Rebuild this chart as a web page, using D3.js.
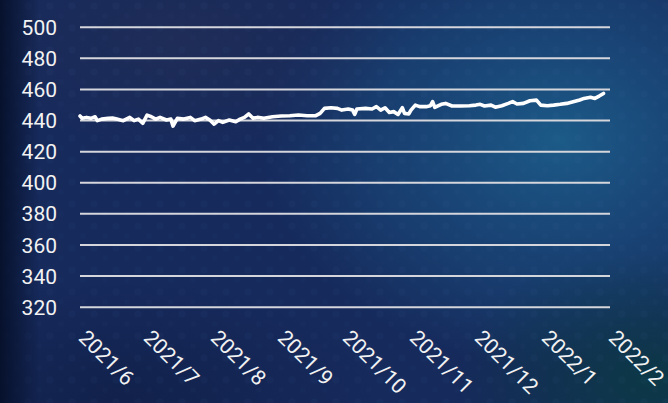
<!DOCTYPE html>
<html><head><meta charset="utf-8">
<script src="https://cdn.jsdelivr.net/npm/d3@7"></script>
<style>html,body{margin:0;padding:0;background:#142a5a;}svg{display:block;}</style>
</head><body>
<svg id="chart" width="668" height="403"></svg>
<script>
const dates = ["2021-06-01","2021-06-02","2021-06-04","2021-06-06","2021-06-08","2021-06-09","2021-06-11","2021-06-14","2021-06-16","2021-06-18","2021-06-21","2021-06-24","2021-06-26","2021-06-28","2021-06-30","2021-07-02","2021-07-04","2021-07-06","2021-07-08","2021-07-11","2021-07-13","2021-07-14","2021-07-16","2021-07-19","2021-07-22","2021-07-24","2021-07-27","2021-07-29","2021-07-31","2021-08-02","2021-08-04","2021-08-06","2021-08-09","2021-08-12","2021-08-14","2021-08-16","2021-08-18","2021-08-20","2021-08-22","2021-08-25","2021-08-29","2021-09-02","2021-09-06","2021-09-10","2021-09-14","2021-09-18","2021-09-20","2021-09-22","2021-09-25","2021-09-28","2021-09-30","2021-10-03","2021-10-05","2021-10-06","2021-10-07","2021-10-11","2021-10-14","2021-10-16","2021-10-18","2021-10-20","2021-10-22","2021-10-24","2021-10-26","2021-10-28","2021-10-29","2021-10-31","2021-11-01","2021-11-03","2021-11-05","2021-11-08","2021-11-10","2021-11-11","2021-11-12","2021-11-15","2021-11-17","2021-11-20","2021-11-24","2021-11-28","2021-12-01","2021-12-03","2021-12-05","2021-12-08","2021-12-10","2021-12-11","2021-12-13","2021-12-16","2021-12-18","2021-12-20","2021-12-23","2021-12-26","2021-12-29","2021-12-31","2022-01-03","2022-01-06","2022-01-09","2022-01-12","2022-01-15","2022-01-18","2022-01-20","2022-01-23","2022-01-25","2022-01-27","2022-01-29"];
const values = [442.6,441.1,441.7,441.1,442.1,439.6,440.6,441.1,441.3,440.6,439.6,441.7,439.6,440.6,437.9,443.2,442.1,440.6,441.7,440.0,440.6,436.1,441.1,440.6,441.7,439.6,440.6,441.7,440.0,437.4,439.6,438.5,440.0,438.9,440.6,441.7,443.9,441.1,441.7,441.1,442.1,442.6,442.8,443.2,442.8,442.8,444.3,447.5,447.9,447.5,446.4,447.1,446.4,443.6,447.1,447.5,447.1,448.6,446.4,447.9,444.9,445.4,443.6,447.9,444.3,443.9,446.4,449.6,448.6,448.6,449.2,451.8,448.1,450.1,450.7,449.0,449.0,449.2,449.6,450.1,449.0,449.6,448.3,448.6,449.2,450.7,451.8,450.3,450.7,452.4,452.8,449.6,449.2,449.6,450.1,450.7,451.8,452.9,453.9,454.6,453.9,455.4,457.1];
const yTicks = [320,340,360,380,400,420,440,460,480,500];
const xDomain = ["2021-06-01","2022-02-01"];

const svg = d3.select("#chart");
const W = 668, H = 403;
const parse = d3.utcParse("%Y-%m-%d");

// background
const defs = svg.append("defs");
function radial(id, stops){
  const g = defs.append("radialGradient").attr("id", id);
  stops.forEach(s => g.append("stop").attr("offset", s[0]).attr("stop-color", s[1]).attr("stop-opacity", s[2]));
}
radial("gRight", [["0%","#1c5d8a",0.95],["60%","#1a4f80",0.55],["100%","#1a4f80",0]]);
radial("gBR", [["0%","#0b3a44",0.9],["100%","#0b3a44",0]]);
radial("gTL", [["0%","#222d55",0.7],["100%","#222d55",0]]);
radial("gBL", [["0%","#0f1d44",0.7],["100%","#0f1d44",0]]);
const lg = defs.append("linearGradient").attr("id","gLeft").attr("x1",0).attr("x2",1).attr("y1",0).attr("y2",0);
lg.append("stop").attr("offset","0%").attr("stop-color","#06102a").attr("stop-opacity",0.95);
lg.append("stop").attr("offset","100%").attr("stop-color","#06102a").attr("stop-opacity",0);
const pat = defs.append("pattern").attr("id","dots").attr("width",22).attr("height",22).attr("patternUnits","userSpaceOnUse");
pat.append("circle").attr("cx",6).attr("cy",6).attr("r",3.5).attr("fill","#4a78b0").attr("opacity",0.05);
pat.append("circle").attr("cx",17).attr("cy",16).attr("r",2.5).attr("fill","#4a78b0").attr("opacity",0.035);

svg.append("rect").attr("width",W).attr("height",H).attr("fill","#162a5c");
svg.append("ellipse").attr("cx",560).attr("cy",140).attr("rx",300).attr("ry",230).attr("fill","url(#gRight)");
svg.append("ellipse").attr("cx",180).attr("cy",40).attr("rx",220).attr("ry",120).attr("fill","url(#gTL)");
svg.append("ellipse").attr("cx",650).attr("cy",380).attr("rx",200).attr("ry",130).attr("fill","url(#gBR)");
svg.append("ellipse").attr("cx",120).attr("cy",400).attr("rx",260).attr("ry",120).attr("fill","url(#gBL)");
svg.append("rect").attr("width",W).attr("height",H).attr("fill","url(#dots)");
svg.append("rect").attr("width",40).attr("height",H).attr("fill","url(#gLeft)");

// scales
const x = d3.scaleUtc().domain(xDomain.map(parse)).range([80, 610]);
const y = d3.scaleLinear().domain([320, 500]).range([306.7, 26.7]);

// grid lines
const grid = svg.append("g").attr("class","grid")
  .attr("transform", "translate(80,0)")
  .call(d3.axisLeft(y).tickValues(yTicks).tickSize(-530).tickFormat(""));
grid.select(".domain").remove();
grid.selectAll("line").attr("stroke","#d4d6dc").attr("stroke-width",2);

// y labels
const ya = svg.append("g").attr("transform","translate(80,0)")
  .call(d3.axisLeft(y).tickValues(yTicks).tickSize(0).tickPadding(23).tickFormat(d3.format("d")));
ya.select(".domain").remove();
ya.selectAll("text").attr("fill","#f2f2f2").attr("font-family","Roboto").attr("font-size",21).attr("dy","0.36em");

// x labels
const fmt = d3.utcFormat("%Y/%-m");
const xa = svg.append("g").attr("transform","translate(0,339)")
  .call(d3.axisBottom(x).ticks(d3.utcMonth.every(1)).tickSize(0).tickFormat(fmt));
xa.select(".domain").remove();
xa.selectAll("text")
  .attr("fill","#f2f2f2").attr("font-family","Roboto").attr("font-size",21)
  .attr("text-anchor","start").attr("dy",0).attr("y",0)
  .attr("transform","translate(-3,0) rotate(45)");

// line
const data = dates.map((d,i) => ({date: parse(d), value: values[i]}));
svg.append("path").datum(data)
  .attr("fill","none").attr("stroke","#ffffff").attr("stroke-width",3.6)
  .attr("stroke-linejoin","round").attr("stroke-linecap","round")
  .attr("d", d3.line().x(d => x(d.date)).y(d => y(d.value)));
</script>
</body></html>
